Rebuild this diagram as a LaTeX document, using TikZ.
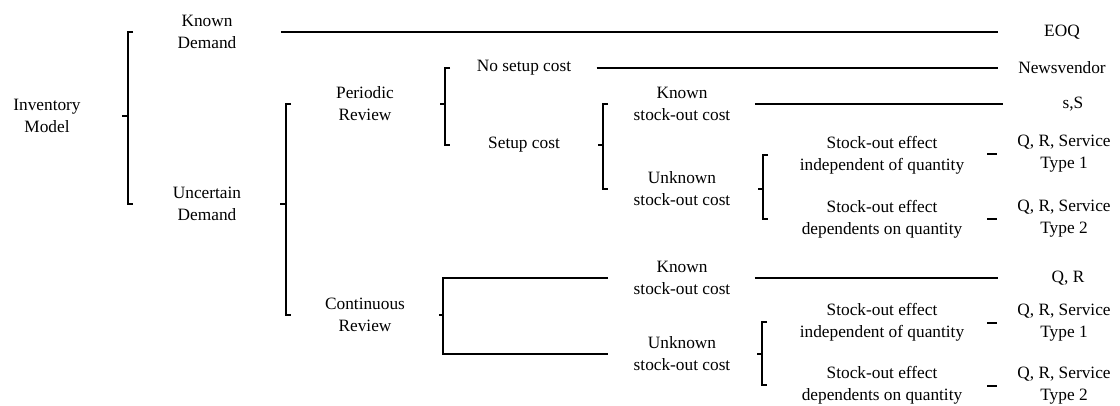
\documentclass[tikz,border=0pt]{standalone}
\usepackage{fontspec}
\setmainfont{Liberation Serif}
\usepackage{tikz}

\begin{document}
\begin{tikzpicture}[x=1pt,y=-1pt,line width=1.1pt]
\tikzstyle{every node}+=[inner sep=0pt,align=center,font=\fontsize{17.3}{22}\selectfont]
\useasboundingbox (0,0) rectangle (1120,405);
\node (im) at (47,116) {Inventory\\Model};
\node (kd) at (207,32) {Known\\Demand};
\node (ud) at (207,204) {Uncertain\\Demand};
\node (pr) at (365,104) {Periodic\\Review};
\node (cr) at (365,315) {Continuous\\Review};
\node (nsc) at (524,68) {No setup cost};
\node (sc) at (524,145) {Setup cost};
\node (ksc1) at (682,104) {Known\\stock-out cost};
\node (usc1) at (682,189) {Unknown\\stock-out cost};
\node (ksc2) at (682,278) {Known\\stock-out cost};
\node (usc2) at (682,354) {Unknown\\stock-out cost};
\node (so1) at (882,155) {Stock-out effect\\independent of quantity};
\node (so2) at (882,219) {Stock-out effect\\dependents on quantity};
\node (so3) at (882,322) {Stock-out effect\\independent of quantity};
\node (so4) at (882,385) {Stock-out effect\\dependents on quantity};
\node (eoq) at (1062,32) {EOQ};
\node (nv) at (1062,68) {Newsvendor};
\node (ss) at (1073,104) {s,S};
\node (r1) at (1064,154) {Q, R, Service\\Type 1};
\node (r2) at (1064,219) {Q, R, Service\\Type 2};
\node (qr) at (1068,278) {Q, R};
\node (r3) at (1064,323) {Q, R, Service\\Type 1};
\node (r4) at (1064,386) {Q, R, Service\\Type 2};
\coordinate (b1) at (128,0);
\coordinate (b2) at (286,0);
\coordinate (b3) at (445,0);
\coordinate (b4) at (603,0);
\coordinate (b5) at (763,0);
\coordinate (b6) at (762,0);
\coordinate (bc) at (443,0);
\coordinate (ce) at (608,0);
\coordinate (le) at (998,0);
\coordinate (dl) at (987,0);
\draw [black] ([xshift=5]b1 |- kd) -- (b1 |- kd) -- (b1 |- ud) -- ([xshift=5]b1 |- ud);
\draw [black] (b1 |- im) -- ++(-6,0);
\draw [black] ([xshift=5]b2 |- pr) -- (b2 |- pr) -- (b2 |- cr) -- ([xshift=5]b2 |- cr);
\draw [black] (b2 |- ud) -- ++(-6,0);
\draw [black] ([xshift=5]b3 |- nsc) -- (b3 |- nsc) -- (b3 |- sc) -- ([xshift=5]b3 |- sc);
\draw [black] (b3 |- pr) -- ++(-5,0);
\draw [black] ([xshift=5]b4 |- ksc1) -- (b4 |- ksc1) -- (b4 |- usc1) -- ([xshift=5]b4 |- usc1);
\draw [black] (b4 |- sc) -- ++(-5,0);
\draw [black] ([xshift=5]b5 |- so1) -- (b5 |- so1) -- (b5 |- so2) -- ([xshift=5]b5 |- so2);
\draw [black] (b5 |- usc1) -- ++(-5,0);
\draw [black] ([xshift=5]b6 |- so3) -- (b6 |- so3) -- (b6 |- so4) -- ([xshift=5]b6 |- so4);
\draw [black] (b6 |- usc2) -- ++(-5,0);
\draw [black] (ce |- ksc2) -- (bc |- ksc2) -- (bc |- usc2) -- (ce |- usc2);
\draw [black] (bc |- cr) -- ++(-4,0);
\draw [black] ([xshift=44]kd.east) -- (le |- kd);
\draw [black] ([xshift=25]nsc.east) -- (le |- nv);
\draw [black] ([xshift=24]ksc1.east) -- ([xshift=5]le |- ss);
\draw [black] ([xshift=24]ksc2.east) -- (le |- qr);
\draw [black] (dl |- r1) -- ++(10,0);
\draw [black] (dl |- r2) -- ++(10,0);
\draw [black] (dl |- r3) -- ++(10,0);
\draw [black] (dl |- r4) -- ++(10,0);
\end{tikzpicture}
\end{document}
